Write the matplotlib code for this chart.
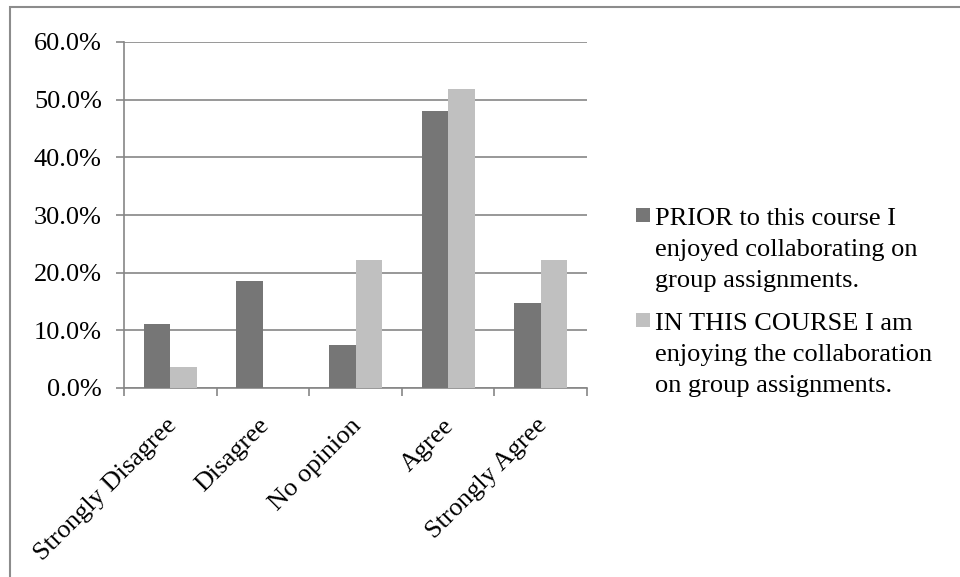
import matplotlib.pyplot as plt
import matplotlib.patches as mpatches
import matplotlib.transforms as mtransforms
import numpy as np
from matplotlib.ticker import PercentFormatter

plt.rcParams['font.family'] = ['Liberation Serif', 'DejaVu Serif']

categories = ["Strongly Disagree", "Disagree", "No opinion", "Agree", "Strongly Agree"]
prior = [11.1, 18.5, 7.4, 48.1, 14.8]
this_course = [3.7, 0.0, 22.2, 51.9, 22.2]
series_labels = [
    "PRIOR to this course I\nenjoyed collaborating on\ngroup assignments.",
    "IN THIS COURSE I am\nenjoying the collaboration\non group assignments.",
]
colors = ["#767676", "#c0c0c0"]
grid_color = "#868686"
FS = 19

fig = plt.figure(figsize=(9.6, 5.77), dpi=100)
ax = fig.add_axes([124 / 960, 1 - 388 / 577, 463 / 960, 346 / 577])

x = np.arange(len(categories))
w = 1 / 3.5
ax.bar(x - w / 2, prior, w, color=colors[0], zorder=3)
ax.bar(x + w / 2, this_course, w, color=colors[1], zorder=3)

ax.set_xlim(-0.5, len(categories) - 0.5)
ax.set_ylim(0, 60)
ax.set_yticks(np.arange(0, 61, 10))
ax.yaxis.set_major_formatter(PercentFormatter(decimals=1))
ax.yaxis.grid(True, color=grid_color, linewidth=1.2, zorder=0)

# category labels sit between boundary ticks
ax.set_xticks(x)
ax.set_xticklabels(categories, rotation=45, ha="right", va="top",
                   rotation_mode="anchor")
ax.set_xticks(np.arange(-0.5, len(categories)), minor=True)
ax.tick_params(axis="x", which="major", length=0, pad=14)
ax.tick_params(axis="x", which="minor", length=6, color=grid_color, width=1.2)
ax.tick_params(axis="y", length=6, color=grid_color, width=1.2, pad=10)
ax.tick_params(labelsize=FS, labelcolor="black")

shift = mtransforms.ScaledTranslation(-5 / 100, -7 / 100, fig.dpi_scale_trans)
for lab in ax.get_xticklabels():
    lab.set_transform(lab.get_transform() + shift)

for side in ("top", "right"):
    ax.spines[side].set_visible(False)
for side in ("left", "bottom"):
    ax.spines[side].set_color(grid_color)
    ax.spines[side].set_linewidth(1.2)

# legend drawn by hand so each swatch lines up with the first text line
legend_mid = [250, 355]
for lbl, col, mid in zip(series_labels, colors, legend_mid):
    sq_top = mid - 42
    fig.patches.append(mpatches.Rectangle(
        (636 / 960, 1 - (sq_top + 14) / 577), 14 / 960, 14 / 577,
        transform=fig.transFigure, facecolor=col, edgecolor="none"))
    fig.text(655 / 960, 1 - mid / 577, lbl, fontsize=FS, va="center",
             ha="left", linespacing=1.52)

# outer chart frame
fig.patches.append(mpatches.Rectangle(
    (10 / 960, -0.05), 1.0, 1 - 7 / 577 + 0.05,
    transform=fig.transFigure, facecolor="none", edgecolor="#8c8c8c",
    linewidth=1.5))

fig.savefig("out.png", dpi=100, facecolor="white")
